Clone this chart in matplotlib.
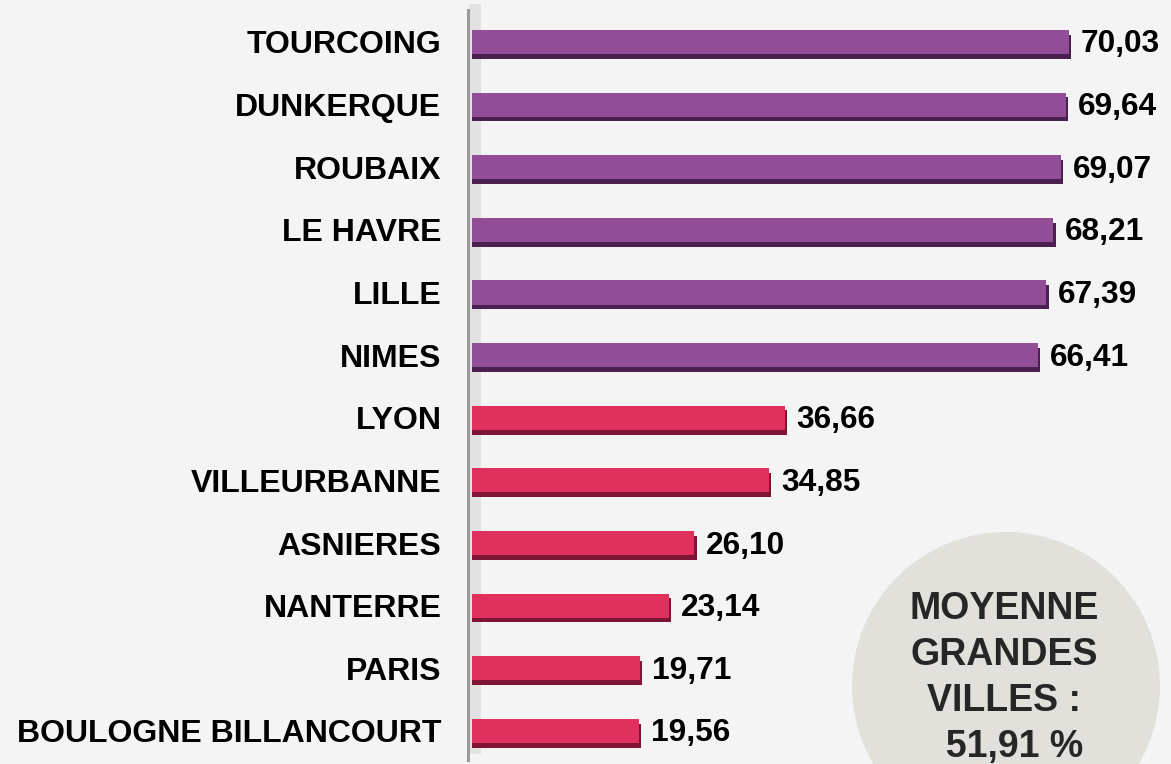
import matplotlib.pyplot as plt
from matplotlib.patches import Ellipse
import numpy as np

plt.rcParams['font.family'] = ['Liberation Sans', 'DejaVu Sans']

# data, top to bottom
villes = ["TOURCOING", "DUNKERQUE", "ROUBAIX", "LE HAVRE", "LILLE", "NIMES",
          "LYON", "VILLEURBANNE", "ASNIERES", "NANTERRE", "PARIS",
          "BOULOGNE BILLANCOURT"]
valeurs = [70.03, 69.64, 69.07, 68.21, 67.39, 66.41,
           36.66, 34.85, 26.10, 23.14, 19.71, 19.56]
groupe = ["haut"] * 6 + ["bas"] * 6
moyenne = 51.91

face = {"haut": "#914e96", "bas": "#e0305e"}
ombre = {"haut": "#4b1f50", "bas": "#7e1535"}

fig = plt.figure(figsize=(11.71, 7.64), dpi=100)
fig.patch.set_facecolor("#f4f4f4")

# vertical axis soft shadow (behind everything)
fig.add_artist(plt.Rectangle((469 / 1171, 10 / 764), 12 / 1171, 750 / 764,
                             transform=fig.transFigure, color="#e2e2e2",
                             lw=0, zorder=-2))
# average bubble
fig.add_artist(Ellipse((1006 / 1171, 1 - 686 / 764), 308 / 1171, 308 / 764,
                       transform=fig.transFigure, color="#e2e0db", lw=0,
                       zorder=-1))

ax = fig.add_axes([472 / 1171, 0, 1 - 472 / 1171, 1])
ax.set_facecolor("none")

y = np.arange(len(villes))
h = 0.385

# shadow / 3d edge, then face
ax.barh(y + 0.075, np.array(valeurs) + 0.25, height=h,
        color=[ombre[g] for g in groupe], zorder=2)
ax.barh(y, valeurs, height=h, color=[face[g] for g in groupe], zorder=3)

for yi, v in zip(y, valeurs):
    ax.annotate(f"{v:.2f}".replace(".", ","), (v + 0.25, yi + 0.04),
                xytext=(7, 0), textcoords="offset points", va="center",
                ha="left", fontsize=22.8, fontweight="bold", color="#000000")

ax.set_xlim(0, 82)
ax.set_ylim(11.527, -0.67)
ax.set_yticks(y)
ax.set_yticklabels(villes, fontsize=23, fontweight="bold")
ax.tick_params(axis="y", length=0, pad=22)
ax.set_xticks([])
for s in ax.spines.values():
    s.set_visible(False)

fig.add_artist(plt.Line2D([468 / 1171, 468 / 1171], [4 / 764, 754 / 764],
                          transform=fig.transFigure, color="#9a9a9a", lw=2.2))

fig.text(1004 / 1171, 1 - 678 / 764,
         "MOYENNE\nGRANDES\nVILLES :\n  " + f"{moyenne:.2f}".replace(".", ",") + " %",
         ha="center", va="center", fontsize=27, fontweight="bold",
         color="#262626", linespacing=1.36)

fig.savefig("out.png", dpi=100, facecolor=fig.get_facecolor())
